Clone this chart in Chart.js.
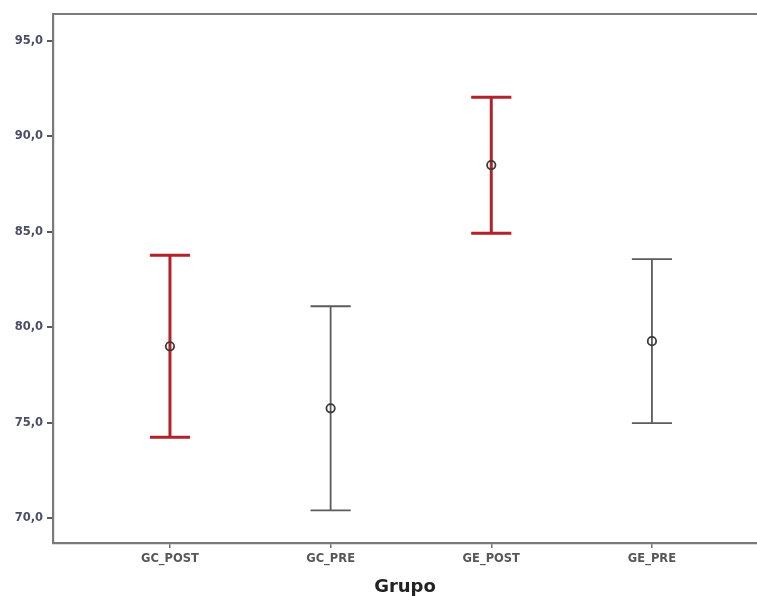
<!DOCTYPE html>
<html>
<head>
<meta charset="utf-8">
<script src="https://cdn.jsdelivr.net/npm/chart.js@4"></script>
<style>
  html, body { margin: 0; padding: 0; background: #fff; overflow: hidden; }
  #wrap { width: 757px; height: 596px; }
  canvas { display: block; }
</style>
</head>
<body>
<div id="wrap"><canvas id="grafico"></canvas></div>
<script>
var grupos = ['GC_POST', 'GC_PRE', 'GE_POST', 'GE_PRE'];
var medias = [79.0, 75.75, 88.5, 79.27];
var limInf = [74.23, 70.4, 84.93, 74.97];
var limSup = [83.78, 81.1, 92.06, 83.57];
var yTicks = [70, 75, 80, 85, 90, 95];

var rojo = '#b3222b';
var gris = '#5c5c5c';
var colorBarra = grupos.map(function (g) { return g.indexOf('POST') > -1 ? rojo : gris; });
var anchoBarra = grupos.map(function (g) { return g.indexOf('POST') > -1 ? 3 : 1.8; });

var puntos = medias.map(function (m, i) { return { x: i + 1, y: m }; });

// barras de error (IC) dibujadas con las escalas del grafico
var barrasError = {
  id: 'barrasError',
  beforeDatasetsDraw: function (chart) {
    var ctx = chart.ctx, xs = chart.scales.x, ys = chart.scales.y;
    ctx.save();
    for (var i = 0; i < grupos.length; i++) {
      var x = xs.getPixelForValue(i + 1);
      var x1 = xs.getPixelForValue(i + 1 - 0.125);
      var x2 = xs.getPixelForValue(i + 1 + 0.125);
      var yA = ys.getPixelForValue(limSup[i]);
      var yB = ys.getPixelForValue(limInf[i]);
      ctx.strokeStyle = colorBarra[i];
      ctx.lineWidth = anchoBarra[i];
      ctx.beginPath();
      ctx.moveTo(x, yA); ctx.lineTo(x, yB);
      ctx.moveTo(x1, yA); ctx.lineTo(x2, yA);
      ctx.moveTo(x1, yB); ctx.lineTo(x2, yB);
      ctx.stroke();
    }
    ctx.restore();
  },
  afterDraw: function (chart) {
    // linea superior del marco (sin borde derecho)
    var a = chart.chartArea, ctx = chart.ctx;
    ctx.save();
    ctx.strokeStyle = '#7b7b7b';
    ctx.lineWidth = 2.2;
    ctx.beginPath();
    ctx.moveTo(a.left - 1, a.top);
    ctx.lineTo(chart.width, a.top);
    ctx.stroke();
    ctx.restore();
  }
};

new Chart(document.getElementById('grafico'), {
  type: 'scatter',
  data: {
    datasets: [{
      data: puntos,
      pointStyle: 'circle',
      pointRadius: 4.2,
      pointBorderWidth: 1.8,
      pointBorderColor: '#3a3a3a',
      pointBackgroundColor: 'rgba(0,0,0,0)',
      showLine: false
    }]
  },
  options: {
    responsive: true,
    maintainAspectRatio: false,
    animation: false,
    layout: { autoPadding: false, padding: { top: 14, left: 0, right: 0, bottom: 0 } },
    plugins: { legend: { display: false }, tooltip: { enabled: false } },
    scales: {
      x: {
        type: 'linear',
        min: 0.272,
        max: 4.654,
        afterBuildTicks: function (s) { s.ticks = grupos.map(function (g, i) { return { value: i + 1 }; }); },
        afterFit: function (s) { s.height = 53; s.paddingRight = 0; s.paddingLeft = 0; },
        grid: { drawOnChartArea: false, drawTicks: true, tickLength: 5, color: '#6e6e6e', lineWidth: 1.5 },
        border: { display: true, color: '#7b7b7b', width: 2.2 },
        ticks: {
          autoSkip: false,
          maxRotation: 0,
          padding: 4,
          color: '#575757',
          font: { family: 'DejaVu Sans', size: 11.5, weight: 'bold' },
          callback: function (v) { return grupos[Math.round(v) - 1]; }
        },
        title: {
          display: true,
          text: 'Grupo',
          color: '#222222',
          padding: 0,
          font: { family: 'DejaVu Sans', size: 18, weight: 'bold', lineHeight: 1.0 }
        }
      },
      y: {
        min: 68.69,
        max: 96.42,
        afterBuildTicks: function (s) { s.ticks = yTicks.map(function (v) { return { value: v }; }); },
        afterFit: function (s) { s.width = 53; },
        grid: { drawOnChartArea: false, drawTicks: true, tickLength: 6, color: '#5a5a5a', lineWidth: 2 },
        border: { display: true, color: '#7b7b7b', width: 2.2 },
        ticks: {
          padding: 4,
          color: '#4a4e68',
          font: { family: 'DejaVu Sans', size: 11.5, weight: 'bold' },
          callback: function (v) { return v.toFixed(1).replace('.', ','); }
        }
      }
    }
  },
  plugins: [barrasError]
});
</script>
</body>
</html>
